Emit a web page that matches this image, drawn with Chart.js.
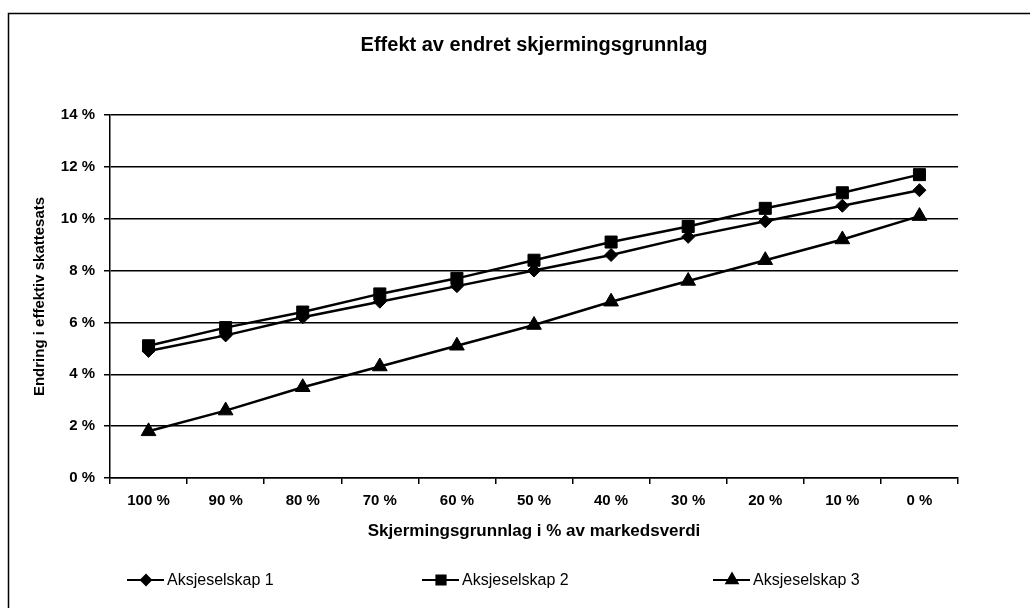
<!DOCTYPE html>
<html>
<head>
<meta charset="utf-8">
<script src="https://cdn.jsdelivr.net/npm/chart.js@4.4.1/dist/chart.umd.min.js"></script>
<style>
  html, body { margin: 0; padding: 0; background: #fff; }
  #wrap { width: 1030px; height: 608px; }
</style>
</head>
<body>
<div id="wrap"><canvas id="effektChart" width="1030" height="608"></canvas></div>
<script>
// data lest av figuren
const kategorier = ['100 %', '90 %', '80 %', '70 %', '60 %', '50 %', '40 %', '30 %', '20 %', '10 %', '0 %'];
const aksjeselskap1 = [4.9, 5.5, 6.2, 6.8, 7.4, 8.0, 8.6, 9.3, 9.9, 10.5, 11.1];
const aksjeselskap2 = [5.1, 5.8, 6.4, 7.1, 7.7, 8.4, 9.1, 9.7, 10.4, 11.0, 11.7];
const aksjeselskap3 = [1.8, 2.6, 3.5, 4.3, 5.1, 5.9, 6.8, 7.6, 8.4, 9.2, 10.1];
const serieNavn = ['Aksjeselskap 1', 'Aksjeselskap 2', 'Aksjeselskap 3'];
const tittel = 'Effekt av endret skjermingsgrunnlag';
const yMin = 0, yMax = 14, yStep = 2;

const fontNavn = "'Liberation Sans', Arial, sans-serif";

// ramme (bare topp og venstre kant er synlig i skannet) og tittel over plottet
const rammePlugin = {
    id: 'ramme',
    beforeDraw(chart) {
        const ctx = chart.ctx;
        ctx.save();
        ctx.fillStyle = '#fff';
        ctx.fillRect(0, 0, chart.width, chart.height);
        ctx.strokeStyle = '#000';
        ctx.lineWidth = 1.5;
        ctx.beginPath();
        ctx.moveTo(8.5, chart.height);
        ctx.lineTo(8.5, 13.5);
        ctx.lineTo(chart.width, 13.5);
        ctx.stroke();

        const area = chart.chartArea;
        ctx.fillStyle = '#000';
        ctx.font = 'bold 20px ' + fontNavn;
        ctx.textAlign = 'center';
        ctx.textBaseline = 'middle';
        ctx.fillText(tittel, (area.left + area.right) / 2, 45);
        ctx.restore();
    }
};

// egen forklaring: linje med markør i midten, tekst til høyre
const legendX = [127, 422, 713];
const legendY = 580;
const legendPlugin = {
    id: 'egenLegend',
    afterDraw(chart) {
        const ctx = chart.ctx;
        ctx.save();
        chart.data.datasets.forEach((ds, i) => {
            const x = legendX[i];
            ctx.strokeStyle = '#000';
            ctx.lineWidth = 2;
            ctx.beginPath();
            ctx.moveTo(x, legendY);
            ctx.lineTo(x + 37, legendY);
            ctx.stroke();
            ctx.fillStyle = '#000';
            Chart.helpers.drawPoint(ctx, {
                pointStyle: ds.pointStyle,
                radius: ds.legendRadius,
                rotation: 0,
                borderWidth: 1
            }, x + 19, legendY);
            ctx.fillStyle = '#000';
            ctx.font = '16px ' + fontNavn;
            ctx.textBaseline = 'middle';
            ctx.textAlign = 'left';
            ctx.fillText(ds.label, x + 40, legendY + 1);
        });
        ctx.restore();
    }
};

function lagSerie(navn, verdier, stil, radius, legendRadius) {
    return {
        label: navn,
        data: verdier,
        borderColor: '#000',
        backgroundColor: '#000',
        borderWidth: 2.5,
        pointStyle: stil,
        pointRadius: radius,
        pointBackgroundColor: '#000',
        pointBorderColor: '#000',
        pointBorderWidth: 1,
        legendRadius: legendRadius,
        tension: 0,
        fill: false
    };
}

const ctx = document.getElementById('effektChart').getContext('2d');
const effektChart = new Chart(ctx, {
    type: 'line',
    data: {
        labels: kategorier,
        datasets: [
            lagSerie(serieNavn[0], aksjeselskap1, 'rectRot', 6.5, 5),
            lagSerie(serieNavn[1], aksjeselskap2, 'rect', 8.5, 6.5),
            lagSerie(serieNavn[2], aksjeselskap3, 'triangle', 8.5, 6.5)
        ]
    },
    options: {
        responsive: false,
        animation: false,
        devicePixelRatio: 1,
        layout: { padding: { left: 0, right: 72, top: 115, bottom: 0 } },
        plugins: {
            legend: { display: false },
            tooltip: { enabled: false },
            title: { display: false }
        },
        scales: {
            x: {
                type: 'category',
                offset: true,
                afterFit: (scale) => { scale.height = 130; },
                grid: {
                    offset: true,
                    drawOnChartArea: false,
                    drawTicks: true,
                    tickLength: 6,
                    color: '#000',
                    lineWidth: 1.5
                },
                border: { color: '#000', width: 1.5 },
                ticks: {
                    color: '#000',
                    padding: 8,
                    maxRotation: 0,
                    autoSkip: false,
                    font: { family: fontNavn, size: 15, weight: 'bold' }
                },
                title: {
                    display: true,
                    text: 'Skjermingsgrunnlag i % av markedsverdi',
                    color: '#000',
                    font: { family: fontNavn, size: 17, weight: 'bold' },
                    padding: { top: 0, bottom: 66 }
                }
            },
            y: {
                min: yMin,
                max: yMax,
                afterFit: (scale) => { scale.width = 110; },
                grid: {
                    color: '#000',
                    lineWidth: 1.5,
                    tickLength: 6,
                    tickColor: '#000'
                },
                border: { color: '#000', width: 1.5 },
                ticks: {
                    stepSize: yStep,
                    color: '#000',
                    padding: 9,
                    font: { family: fontNavn, size: 15, weight: 'bold' },
                    callback: (v) => v + ' %'
                },
                title: {
                    display: true,
                    text: 'Endring i effektiv skattesats',
                    color: '#000',
                    font: { family: fontNavn, size: 15, weight: 'bold' },
                    padding: { top: 31, bottom: 0 }
                }
            }
        }
    },
    plugins: [rammePlugin, legendPlugin]
});
</script>
</body>
</html>
